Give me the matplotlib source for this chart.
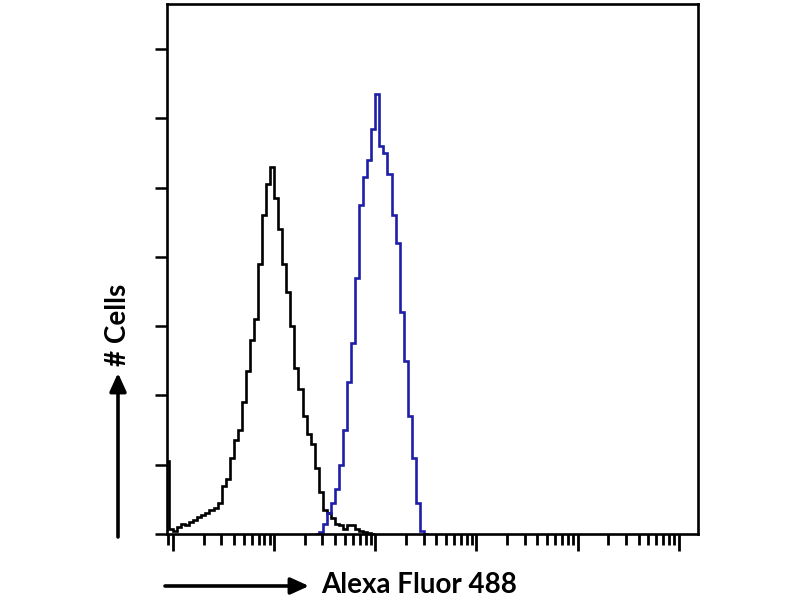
import numpy as np
import matplotlib
matplotlib.use("Agg")
import matplotlib.pyplot as plt
from matplotlib.ticker import LogLocator, NullFormatter, FixedLocator

# ---- data (log-decade bins of fluorescence intensity, counts per bin) ----
BIN_W = 0.04  # bin width in decades

black_first_edge = -0.08
black_counts = [21, 1.5, 1, 2, 3, 2.5, 3.5, 4, 5, 5.5, 6, 7, 7.5, 9, 14, 16,
                22, 27, 30, 38, 47, 56, 62, 78, 92, 101, 106, 97, 88, 78, 70,
                60, 48, 42, 34, 29, 26, 19, 12, 7, 6, 4.5, 3, 2.5, 1.5, 2.5,
                2.5, 1.5, 1, 0.5, 0.3, 0]

blue_first_edge = 1.40
blue_counts = [0, 0.5, 3, 6, 9, 13, 20, 30, 44, 55, 74, 95, 103, 108, 117,
               127, 112, 110, 104, 92, 84, 64, 50, 34, 22, 9, 1, 0]

y_ticks = [0, 20, 40, 60, 80, 100, 120, 140]
x_decades = [0, 1, 2, 3, 4, 5]

# ---- figure ----
fig = plt.figure(figsize=(8, 6), dpi=100)
ax = fig.add_axes([167/800, 1 - 534/600, (698-167)/800, (534-4)/600])

def edges(first, n):
    return 10 ** (first + BIN_W * np.arange(n + 1))

ax.stairs(black_counts, edges(black_first_edge, len(black_counts)),
          color="black", linewidth=1.9, baseline=0)
ax.stairs(blue_counts, edges(blue_first_edge, len(blue_counts)),
          color="#1e1ea8", linewidth=1.9, baseline=0)

ax.set_xscale("log")
ax.set_xlim(10 ** -0.06, 10 ** 5.19)
ax.set_ylim(0, 153)

ax.xaxis.set_major_locator(FixedLocator([10.0 ** d for d in x_decades]))
ax.xaxis.set_minor_locator(LogLocator(base=10, subs=np.arange(2, 10), numticks=20))
ax.xaxis.set_major_formatter(NullFormatter())
ax.xaxis.set_minor_formatter(NullFormatter())
ax.set_yticks(y_ticks)
ax.set_yticklabels([])

ax.tick_params(axis="x", which="major", direction="out", length=12, width=2, color="black")
ax.tick_params(axis="x", which="minor", direction="out", length=8, width=2, color="black")
ax.tick_params(axis="y", which="major", direction="out", length=9, width=1.8, color="black")

for s in ax.spines.values():
    s.set_linewidth(1.9)
    s.set_color("black")

font = ["Lato", "DejaVu Sans"]

# x label with arrow
fig.text(321/800, 1 - 585/600, "Alexa Fluor 488", fontsize=20, fontweight="bold",
         family=font, ha="left", va="center")
fig.add_artist(matplotlib.patches.FancyArrowPatch(
    (165/800, 1 - 586/600), (309/800, 1 - 586/600), transform=fig.transFigure,
    arrowstyle="-|>,head_length=0.55,head_width=0.25", mutation_scale=20,
    linewidth=2.6, color="black", shrinkA=0, shrinkB=0))

# y label with arrow
fig.text(118/800, 1 - 325/600, "# Cells", fontsize=20, fontweight="bold",
         family=font, ha="center", va="center", rotation=90)
fig.add_artist(matplotlib.patches.FancyArrowPatch(
    (118/800, 1 - 537/600), (118/800, 1 - 373/600), transform=fig.transFigure,
    arrowstyle="-|>,head_length=0.55,head_width=0.25", mutation_scale=20,
    linewidth=2.6, color="black", shrinkA=0, shrinkB=0))

fig.savefig("out.png", dpi=100, facecolor="white")
